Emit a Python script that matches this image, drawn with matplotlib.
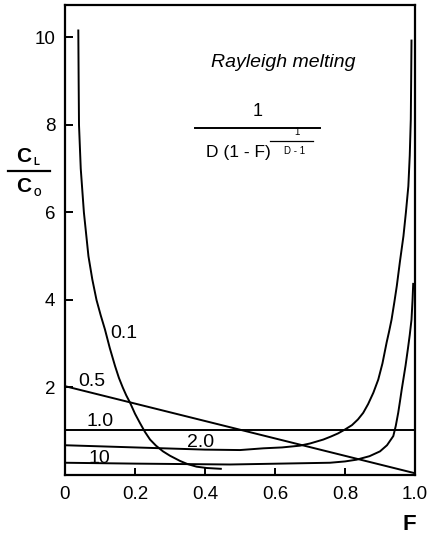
import numpy as np
import matplotlib
matplotlib.use('Agg')
import matplotlib.pyplot as plt
from matplotlib.lines import Line2D

plt.rcParams['font.family'] = ['Liberation Sans', 'DejaVu Sans']

# values: F and C_L/C_o for each D
F_01 = [0.038, 0.039, 0.040, 0.045, 0.054, 0.067, 0.078, 0.090, 0.102, 0.114,
        0.128, 0.143, 0.154, 0.165, 0.175, 0.186, 0.200, 0.214, 0.228, 0.243,
        0.260, 0.280, 0.300, 0.329, 0.350, 0.376, 0.405, 0.448]
C_01 = [10.18, 9.0, 8.0, 7.0, 6.0, 5.0, 4.47, 4.0, 3.65, 3.33,
        2.9, 2.49, 2.22, 2.0, 1.82, 1.65, 1.40, 1.19, 0.99, 0.81,
        0.67, 0.54, 0.44, 0.32, 0.25, 0.19, 0.16, 0.14]
F_05 = [0.0, 1.0]
C_05 = [2.03, 0.04]
F_10 = [0.0, 1.0]
C_10 = [1.03, 1.03]
F_20 = [0.0, 0.2, 0.4, 0.5, 0.567, 0.62, 0.671, 0.70, 0.738, 0.76,
        0.78, 0.80, 0.82, 0.837, 0.852, 0.866, 0.881, 0.895, 0.907, 0.919,
        0.926, 0.933, 0.941, 0.948, 0.957, 0.967, 0.974, 0.981, 0.985, 0.988,
        0.989, 0.990]
C_20 = [0.68, 0.63, 0.58, 0.57, 0.61, 0.63, 0.67, 0.72, 0.81, 0.88,
        0.95, 1.04, 1.14, 1.27, 1.42, 1.62, 1.88, 2.18, 2.55, 3.03,
        3.28, 3.55, 3.95, 4.32, 4.88, 5.46, 6.0, 6.6, 7.3, 8.13,
        9.0, 9.95]
F_100 = [0.0, 0.2, 0.471, 0.757, 0.80, 0.833, 0.87, 0.900, 0.92, 0.938,
         0.945, 0.952, 0.957, 0.962, 0.967, 0.973, 0.980, 0.985, 0.990, 0.993,
         0.995]
C_100 = [0.28, 0.26, 0.24, 0.28, 0.31, 0.35, 0.43, 0.54, 0.68, 0.89,
         1.12, 1.42, 1.68, 1.95, 2.2, 2.5, 2.9, 3.2, 3.55, 4.0,
         4.39]
curve_labels = ['0.1', '0.5', '1.0', '2.0', '10']
label_F = [0.167, 0.076, 0.100, 0.386, 0.098]
label_C = [3.24, 2.13, 1.22, 0.74, 0.37]

xticks = [0, 0.2, 0.4, 0.6, 0.8, 1.0]
xticklabels = ['0', '0.2', '0.4', '0.6', '0.8', '1.0']
yticks = [2, 4, 6, 8, 10]

fig = plt.figure(figsize=(4.35, 5.41), dpi=100)
ax = fig.add_axes([65/435, 66/541, 350/435, 470/541])
lw = 1.4
for F, C in [(F_01, C_01), (F_05, C_05), (F_10, C_10), (F_20, C_20), (F_100, C_100)]:
    ax.plot(F, C, color='black', lw=lw, solid_capstyle='butt', solid_joinstyle='round')

ax.set_xlim(0, 1.0)
ax.set_ylim(0, 10.74)
ax.set_xticks(xticks)
ax.set_xticklabels(xticklabels)
ax.set_yticks(yticks)
ax.tick_params(axis='both', direction='in', labelsize=13.5, width=1.4)
ax.tick_params(axis='x', length=5, pad=8)
ax.tick_params(axis='y', length=6, pad=7)
for sp in ax.spines.values():
    sp.set_linewidth(1.6)

for lab, fx, cy in zip(curve_labels, label_F, label_C):
    ax.text(fx, cy, lab, ha='center', va='center', fontsize=14)

# title and equation
ax.text(0.624, 9.42, 'Rayleigh melting', ha='center', va='center',
        fontsize=14, style='italic')
ax.text(0.551, 8.30, '1', ha='center', va='center', fontsize=13)
ax.plot([0.371, 0.729], [7.94, 7.94], color='black', lw=1.4)
ax.text(0.494, 7.38, 'D (1 - F)', ha='center', va='center', fontsize=12.5)
ax.text(0.663, 7.84, '1', ha='center', va='center', fontsize=7)
ax.plot([0.586, 0.709], [7.63, 7.63], color='black', lw=0.9)
ax.text(0.657, 7.40, 'D - 1', ha='center', va='center', fontsize=7)

# y label as a fraction
fig.text(24/435, 1 - 157/541, 'C', ha='center', va='center', fontsize=15, fontweight='bold')
fig.text(36/435, 1 - 162/541, 'L', ha='center', va='center', fontsize=7, fontweight='bold')
fig.add_artist(Line2D([8/435, 50/435], [1 - 171/541, 1 - 171/541], color='black', lw=1.6))
fig.text(24/435, 1 - 187/541, 'C', ha='center', va='center', fontsize=15, fontweight='bold')
fig.text(37/435, 1 - 193/541, 'O', ha='center', va='center', fontsize=7, fontweight='bold')

fig.text(409/435, 1 - 524/541, 'F', ha='center', va='center', fontsize=16, fontweight='bold')

plt.savefig('out.png', dpi=100)
plt.close()
